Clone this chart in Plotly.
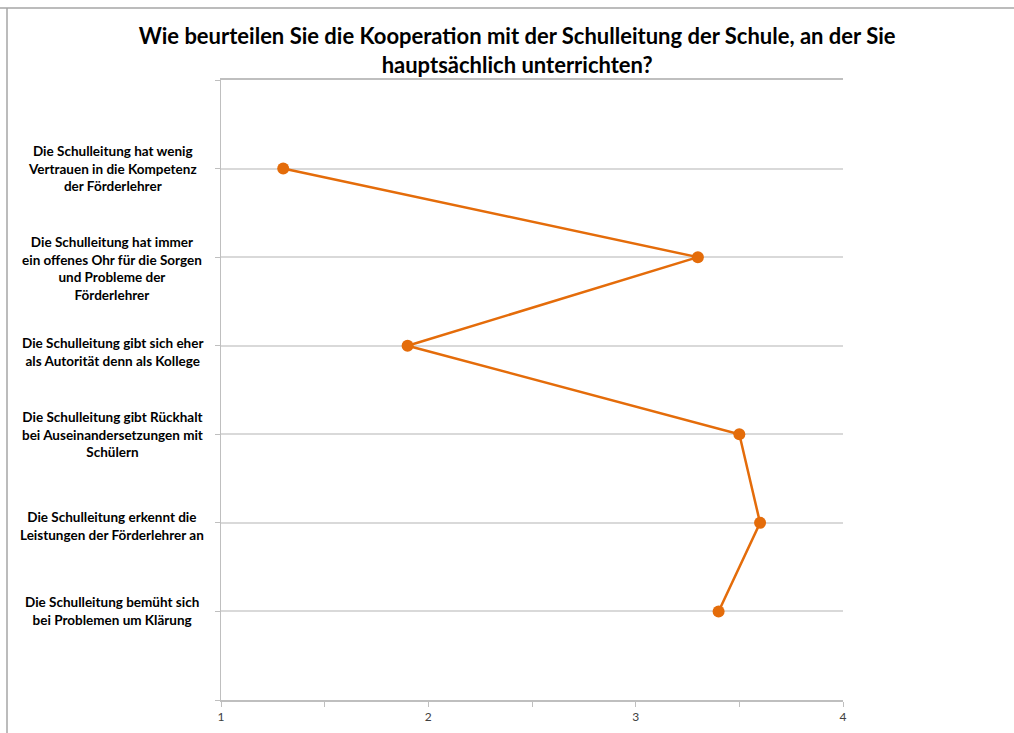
import plotly.graph_objects as go

title_text = "Wie beurteilen Sie die Kooperation mit der Schulleitung der Schule, an der Sie<br>hauptsächlich unterrichten?"

categories = [
    "Die Schulleitung hat wenig<br>Vertrauen in die Kompetenz<br>der Förderlehrer",
    "Die Schulleitung hat immer<br>ein offenes Ohr für die Sorgen<br>und Probleme der<br>Förderlehrer",
    "Die Schulleitung gibt sich eher<br>als Autorität denn als Kollege",
    "Die Schulleitung gibt Rückhalt<br>bei Auseinandersetzungen mit<br>Schülern",
    "Die Schulleitung erkennt die<br>Leistungen der Förderlehrer an",
    "Die Schulleitung bemüht sich<br>bei Problemen um Klärung",
]
category_pos = [1, 2, 3, 4, 5, 6]
values = [1.3, 3.3, 1.9, 3.5, 3.6, 3.4]
x_ticks = [1, 2, 3, 4]

label_yshift = [0, -11, -6, 0, -3, 0]

ORANGE = "#E46C0A"
GRID = "#D9D9D9"
AXIS = "#BFBFBF"
FONT = "Lato, 'Open Sans', sans-serif"

W, H = 1014, 733
ML, MR, MT, MB = 221, 171, 80, 33
PW, PH = W - ML - MR, H - MT - MB


def px_x(p):
    return (p - ML) / PW


def px_y(p):
    return (H - MB - p) / PH


fig = go.Figure()
fig.add_trace(go.Scatter(
    x=values, y=category_pos, mode="lines+markers",
    line=dict(color=ORANGE, width=2.5),
    marker=dict(color=ORANGE, size=12),
    showlegend=False, hoverinfo="skip",
))

for cat, yp, ys in zip(categories, category_pos, label_yshift):
    fig.add_annotation(
        x=px_x(112), xref="paper", y=yp, yref="y", text=f"<b>{cat}</b>",
        showarrow=False, align="center", xanchor="center", yanchor="middle",
        yshift=ys, font=dict(family=FONT, size=13.5, color="#000000"),
    )

fig.update_layout(
    width=W, height=H,
    margin=dict(l=ML, r=MR, t=MT, b=MB),
    paper_bgcolor="white", plot_bgcolor="white",
    title=dict(text=f"<b>{title_text}</b>", x=0.51, xanchor="center", y=0.940, yanchor="middle",
               font=dict(family=FONT, size=22, color="#000000")),
    xaxis=dict(
        range=[1, 4], tickvals=x_ticks, ticktext=[str(t) for t in x_ticks],
        showgrid=False, zeroline=False, showline=True, linecolor=AXIS, linewidth=1.5,
        mirror=True, automargin=False,
        ticks="outside", ticklen=5, tickcolor=AXIS,
        minor=dict(dtick=0.5, tick0=1, ticks="outside", ticklen=5, tickcolor=AXIS, showgrid=False),
        tickfont=dict(family=FONT, size=12, color="#404040"),
    ),
    yaxis=dict(
        range=[7, 0], tickvals=[0, 1, 2, 3, 4, 5, 6, 7],
        ticktext=[""] * 8, showgrid=True, gridcolor=GRID, gridwidth=1.5,
        zeroline=False, showline=True, linecolor=AXIS, linewidth=1, automargin=False,
        ticks="outside", ticklen=5, tickcolor=AXIS,
    ),
    shapes=[
        dict(type="line", xref="paper", yref="paper", x0=px_x(0), x1=px_x(W),
             y0=px_y(8), y1=px_y(8), line=dict(color="#A6A6A6", width=1.5)),
        dict(type="line", xref="paper", yref="paper", x0=px_x(7), x1=px_x(7),
             y0=px_y(8), y1=px_y(H), line=dict(color="#A6A6A6", width=1.5)),
    ],
)

fig.write_html("out.html")
